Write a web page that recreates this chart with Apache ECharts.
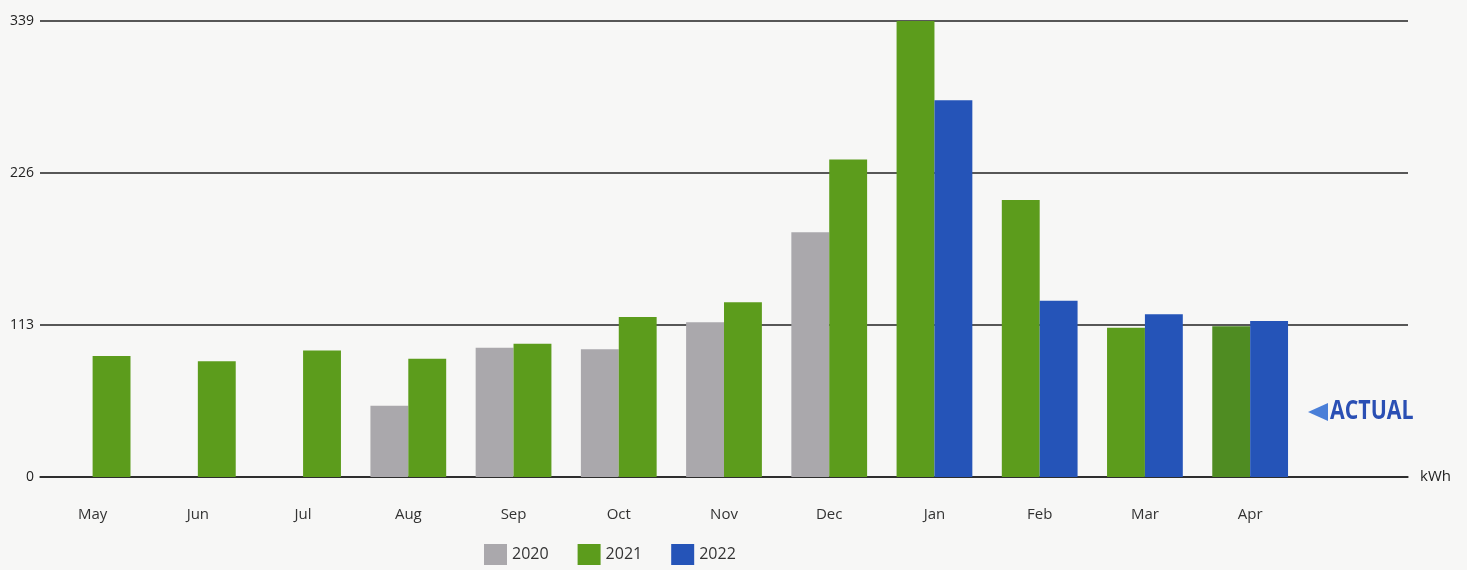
<!DOCTYPE html>
<html>
<head>
<meta charset="utf-8">
<script src="https://cdn.jsdelivr.net/npm/echarts@6/dist/echarts.min.js"></script>
<style>
html,body{margin:0;padding:0;background:#f7f7f6;}
#chart{width:1467px;height:570px;}
</style>
</head>
<body>
<div id="chart"></div>
<script>
var months = ['May','Jun','Jul','Aug','Sep','Oct','Nov','Dec','Jan','Feb','Mar','Apr'];
var yTicks = [0, 113, 226, 339];
// left bar in each month (previous year)
var v2020 = [null, null, null, 53, 96, 95, 115, 182, null, null, null, null];
var v2021left = [null, null, null, null, null, null, null, null, 339, 206, 111, 112];
// right bar in each month (current year)
var v2021right = [90, 86, 94, 88, 99, 119, 130, 236, null, null, null, null];
var v2022 = [null, null, null, null, null, null, null, null, 280, 131, 121, 116];

var C2020 = '#aaa8ac', C2021 = '#5c9c1c', C2022 = '#2554b8';

var chart = echarts.init(document.getElementById('chart'));
var font = 'Open Sans';
var leftData = v2021left.map(function (v, i) {
  return i === months.length - 1 ? {value: v, itemStyle: {color: '#4f8c22'}} : v;
});
chart.setOption({
  animation: false,
  backgroundColor: '#f7f7f6',
  grid: {left: 40, right: 59, top: 21, bottom: 93, containLabel: false},
  legend: {
    data: ['2020','2021','2022'],
    bottom: 0, left: 479,
    itemWidth: 23, itemHeight: 21, itemGap: 29,
    icon: 'rect',
    textStyle: {fontFamily: font, fontSize: 16, color: '#333'}
  },
  xAxis: {
    type: 'category',
    data: months.concat(['']),
    axisLine: {lineStyle: {color: '#222', width: 1.5}},
    axisTick: {show: false},
    axisLabel: {fontFamily: font, fontSize: 15, color: '#333', margin: 30},
    name: 'kWh', nameLocation: 'end', nameGap: 12,
    nameTextStyle: {fontFamily: font, fontSize: 15, color: '#222'}
  },
  yAxis: {
    type: 'value', min: 0, max: yTicks[yTicks.length-1], interval: yTicks[1],
    axisLine: {show: false}, axisTick: {show: false},
    axisLabel: {fontFamily: font, fontSize: 14, color: '#222', margin: 6},
    splitLine: {lineStyle: {color: '#222', width: 1.5}}
  },
  series: [
    {name: '2020', type: 'bar', stack: 'left', data: v2020, itemStyle: {color: C2020}, barGap: '0%', barCategoryGap: '28%'},
    {name: '2021', type: 'bar', stack: 'left', data: leftData, itemStyle: {color: C2021}},
    {name: '2021', type: 'bar', stack: 'right', data: v2021right, itemStyle: {color: C2021}},
    {name: '2022', type: 'bar', stack: 'right', data: v2022, itemStyle: {color: C2022}}
  ],
  graphic: [
    {type: 'polygon', shape: {points: [[1308, 412], [1328, 403], [1328, 421]]}, style: {fill: '#4a7fd8'}},
    {type: 'text', x: 1330, y: 412, scaleX: 0.82, style: {text: 'ACTUAL', fill: '#2a4fb4', verticalAlign: 'middle', font: 'bold 26px "Open Sans", sans-serif'}}
  ]
});
</script>
</body>
</html>
